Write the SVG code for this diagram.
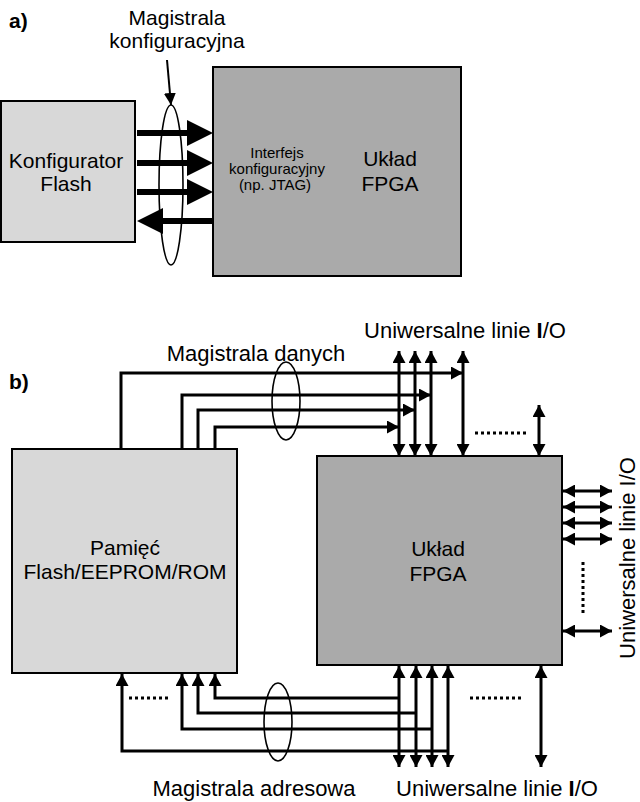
<svg xmlns="http://www.w3.org/2000/svg" width="640" height="802" viewBox="0 0 640 802">
<defs>
<style>
text{font-family:"Liberation Sans",Arial,sans-serif;fill:#000}
.big{font-size:22px}
.two{font-size:21px}
.small{font-size:15px}
.lbl{font-size:21px;font-weight:bold}
.box{stroke:#000;stroke-width:2}
.light{fill:#d8d8d8}
.dark{fill:#aaaaaa}
.bus{fill:none;stroke:#000;stroke-width:3}
.dot{fill:none;stroke:#000;stroke-width:3;stroke-dasharray:3 3}
.ell{fill:none;stroke:#000;stroke-width:1.6}
.thick{stroke:#000;stroke-width:6}
</style>
<marker id="ah" markerUnits="userSpaceOnUse" markerWidth="12" markerHeight="13" refX="12" refY="6.5" orient="auto-start-reverse">
<path d="M0,0 L12,6.5 L0,13 z" fill="#000"/>
</marker>
<marker id="ahs" markerUnits="userSpaceOnUse" markerWidth="12" markerHeight="12" refX="12" refY="6" orient="auto">
<path d="M0,0 L12,6 L0,12 z" fill="#000"/>
</marker>
</defs>
<rect width="640" height="802" fill="#fff"/>

<!-- Part a -->
<text class="lbl" x="9" y="28">a)</text>
<text class="two" x="177" y="25" text-anchor="middle">Magistrala</text>
<text class="two" x="177" y="48" text-anchor="middle">konfiguracyjna</text>

<g id="konfigurator">
<rect class="box light" x="1" y="101" width="134" height="141"/>
<text class="two" x="66" y="168" text-anchor="middle">Konfigurator</text>
<text class="two" x="66" y="191" text-anchor="middle">Flash</text>
</g>

<g id="fpga-a">
<rect class="box dark" x="213" y="67" width="248" height="209"/>
<text class="small" x="277" y="158" text-anchor="middle">Interfejs</text>
<text class="small" x="277" y="174" text-anchor="middle">konfiguracyjny</text>
<text class="small" x="275" y="190" text-anchor="middle">(np. JTAG)</text>
<text class="two" x="390" y="166" text-anchor="middle">Układ</text>
<text class="two" x="390" y="191" text-anchor="middle">FPGA</text>
</g>

<g id="connectors-a">
<line class="thick" x1="137" y1="133" x2="190" y2="133"/>
<polygon points="187,120 213,133 187,146"/>
<line class="thick" x1="137" y1="163" x2="190" y2="163"/>
<polygon points="187,150 213,163 187,176"/>
<line class="thick" x1="137" y1="192" x2="190" y2="192"/>
<polygon points="187,179 213,192 187,205"/>
<line class="thick" x1="213" y1="221" x2="160" y2="221"/>
<polygon points="163,208 137,221 163,234"/>
<ellipse class="ell" cx="171" cy="185" rx="12" ry="80"/>
<line x1="167" y1="60" x2="171" y2="105" stroke="#000" stroke-width="2" marker-end="url(#ahs)"/>
</g>

<!-- Part b -->
<text class="lbl" x="9" y="389">b)</text>
<text class="big" x="256" y="361" text-anchor="middle">Magistrala danych</text>
<text class="big" x="465" y="338" text-anchor="middle">Uniwersalne linie <tspan font-weight="bold">I</tspan>/O</text>
<text class="big" x="254" y="796" text-anchor="middle">Magistrala adresowa</text>
<text class="big" x="497" y="796" text-anchor="middle">Uniwersalne linie <tspan font-weight="bold">I</tspan>/O</text>
<text class="big" transform="translate(635,558) rotate(-90)" text-anchor="middle">Uniwersalne linie I/O</text>

<g id="pamiec">
<rect class="box light" x="12" y="449" width="225" height="224"/>
<text class="two" x="125" y="555" text-anchor="middle">Pamięć</text>
<text class="two" x="125" y="579" text-anchor="middle">Flash/EEPROM/ROM</text>
</g>

<g id="fpga-b">
<rect class="box dark" x="317" y="456" width="245" height="209"/>
<text class="two" x="438" y="556" text-anchor="middle">Układ</text>
<text class="two" x="438" y="581" text-anchor="middle">FPGA</text>
</g>

<g id="connectors-b">
<!-- data bus -->
<path class="bus" d="M121,449 V373 H463" marker-end="url(#ah)"/>
<path class="bus" d="M182,449 V395 H431" marker-end="url(#ah)"/>
<path class="bus" d="M198,449 V410 H415" marker-end="url(#ah)"/>
<path class="bus" d="M215,449 V427 H399" marker-end="url(#ah)"/>
<ellipse class="ell" cx="286" cy="401" rx="14" ry="39"/>
<!-- top I/O -->
<line class="bus" x1="399" y1="351" x2="399" y2="456" marker-start="url(#ah)" marker-end="url(#ah)"/>
<line class="bus" x1="415" y1="351" x2="415" y2="456" marker-start="url(#ah)" marker-end="url(#ah)"/>
<line class="bus" x1="431" y1="351" x2="431" y2="456" marker-start="url(#ah)" marker-end="url(#ah)"/>
<line class="bus" x1="463" y1="351" x2="463" y2="456" marker-start="url(#ah)" marker-end="url(#ah)"/>
<line class="bus" x1="539" y1="405" x2="539" y2="456" marker-start="url(#ah)" marker-end="url(#ah)"/>
<path class="dot" d="M475,433 H528"/>
<!-- right I/O -->
<line class="bus" x1="563" y1="491" x2="612" y2="491" marker-start="url(#ah)" marker-end="url(#ah)"/>
<line class="bus" x1="563" y1="507" x2="612" y2="507" marker-start="url(#ah)" marker-end="url(#ah)"/>
<line class="bus" x1="563" y1="523" x2="612" y2="523" marker-start="url(#ah)" marker-end="url(#ah)"/>
<line class="bus" x1="563" y1="539" x2="612" y2="539" marker-start="url(#ah)" marker-end="url(#ah)"/>
<line class="bus" x1="563" y1="631" x2="612" y2="631" marker-start="url(#ah)" marker-end="url(#ah)"/>
<path class="dot" d="M583,562 V613"/>
<!-- bottom I/O -->
<line class="bus" x1="399" y1="666" x2="399" y2="767" marker-start="url(#ah)" marker-end="url(#ah)"/>
<line class="bus" x1="416" y1="666" x2="416" y2="767" marker-start="url(#ah)" marker-end="url(#ah)"/>
<line class="bus" x1="432" y1="666" x2="432" y2="767" marker-start="url(#ah)" marker-end="url(#ah)"/>
<line class="bus" x1="448" y1="666" x2="448" y2="767" marker-start="url(#ah)" marker-end="url(#ah)"/>
<line class="bus" x1="541" y1="666" x2="541" y2="767" marker-start="url(#ah)" marker-end="url(#ah)"/>
<path class="dot" d="M470,698 H522"/>
<!-- address bus -->
<path class="bus" d="M399,698 H215 V674" marker-end="url(#ah)"/>
<path class="bus" d="M416,713 H198 V674" marker-end="url(#ah)"/>
<path class="bus" d="M432,729 H182 V674" marker-end="url(#ah)"/>
<path class="bus" d="M448,751 H122 V674" marker-end="url(#ah)"/>
<path class="dot" d="M129,698 H170"/>
<ellipse class="ell" cx="278" cy="722" rx="14" ry="39"/>
</g>
</svg>
